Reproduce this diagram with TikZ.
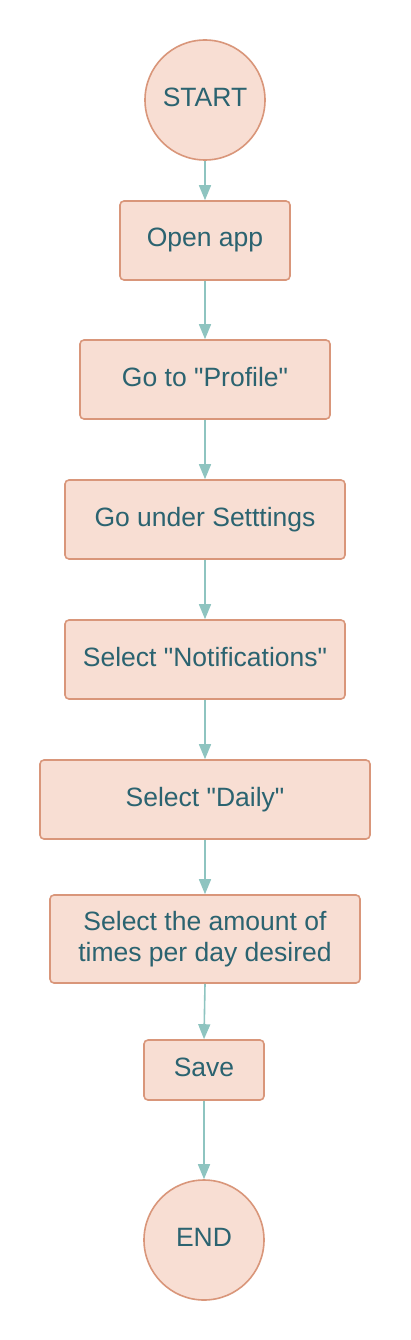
\documentclass[tikz,border=0pt]{standalone}
\usepackage{fontspec}
\setmainfont[Ligatures=TeXOff]{Liberation Sans}
\usetikzlibrary{arrows.meta}
\definecolor{boxfill}{HTML}{F8DED3}
\definecolor{boxline}{HTML}{D9967A}
\definecolor{txt}{HTML}{2B6370}
\definecolor{arr}{HTML}{8EC4C0}
\begin{document}
\begin{tikzpicture}[x=1pt,y=-1pt,
  base/.style={draw=boxline,fill=boxfill,line width=1.6pt,text=txt,
    font=\fontsize{26.5}{31.5}\selectfont,align=center,inner sep=0pt},
  one/.style={text height=19pt,text depth=6pt},
  stepbox/.style={base,rectangle,rounded corners=4pt},
  term/.style={base,one,circle,minimum size=120pt},
  conn/.style={draw=arr,line width=1.6pt,-{Triangle[length=15pt,width=12pt]}}]
\useasboundingbox (0,0) rectangle (410,1340);
\node[term] (start) at (205,100) {START};
\node[stepbox,one,minimum width=170pt,minimum height=79pt] (open) at (205,240.5) {Open app};
\node[stepbox,one,minimum width=250pt,minimum height=79pt] (profile) at (205,379.5) {Go to "Profile"};
\node[stepbox,one,minimum width=280pt,minimum height=79pt] (settings) at (205,519.5) {Go under Setttings};
\node[stepbox,one,minimum width=280pt,minimum height=79pt] (notif) at (205,659.5) {Select "Notifications"};
\node[stepbox,one,minimum width=330pt,minimum height=79pt] (daily) at (205,799.5) {Select "Daily"};
\node[stepbox,minimum width=310pt,minimum height=88pt] (amount) at (205,939) {Select the amount of\\times per day desired};
\node[stepbox,one,minimum width=120pt,minimum height=60pt] (save) at (204,1070) {Save};
\node[term] (end) at (204,1240) {END};
\draw[conn] (start) -- (open);
\draw[conn] (open) -- (profile);
\draw[conn] (profile) -- (settings);
\draw[conn] (settings) -- (notif);
\draw[conn] (notif) -- (daily);
\draw[conn] (daily) -- (amount);
\draw[conn] (amount.south) -- (save.north);
\draw[conn] (save) -- (end);
\end{tikzpicture}
\end{document}
